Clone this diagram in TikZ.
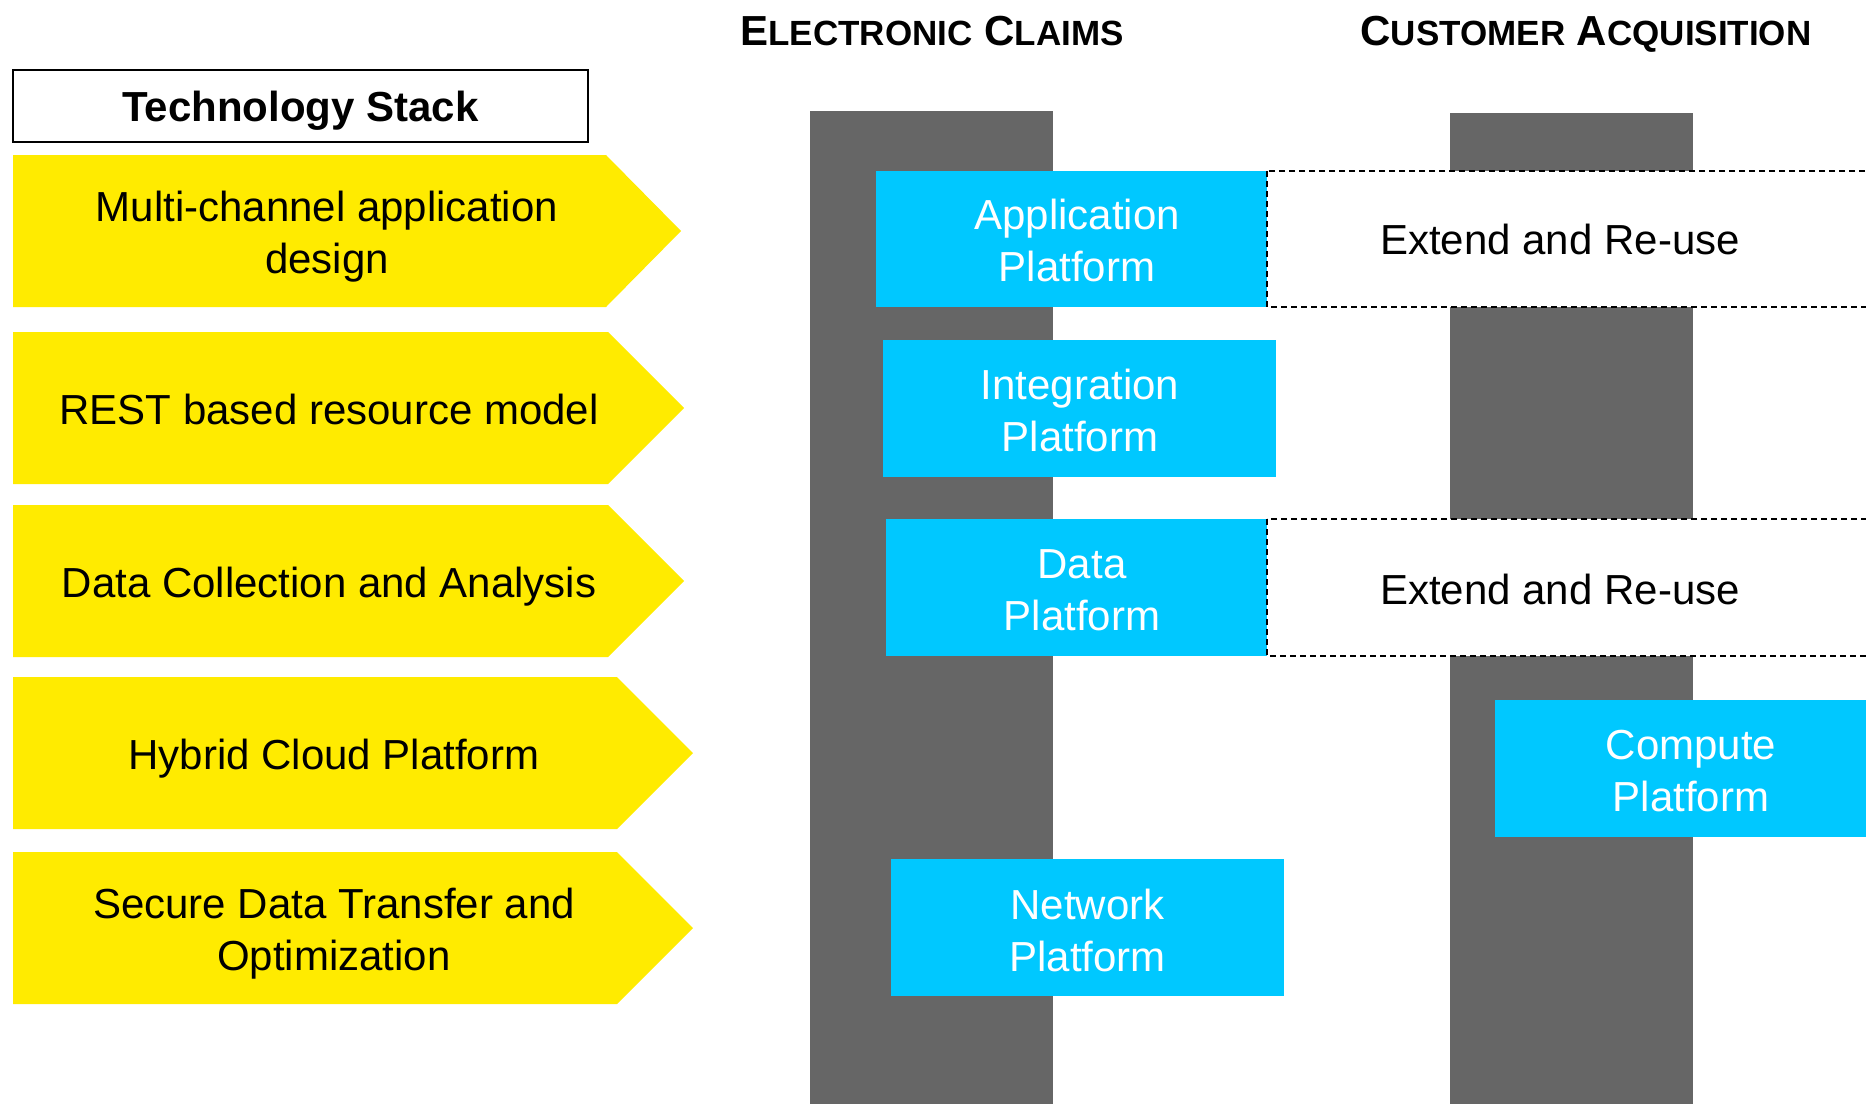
\documentclass[tikz,border=0pt]{standalone}
\usepackage{fontspec}
\setmainfont{Liberation Sans}
\definecolor{ayellow}{HTML}{FFEB00}
\definecolor{ablue}{HTML}{00C8FF}
\definecolor{agray}{HTML}{666666}
\newcommand{\smcap}[1]{{\fontsize{17.5}{20}\selectfont #1}}
\tikzset{
  txt/.style={font=\fontsize{21}{26}\selectfont, align=center, inner sep=0pt},
  wtxt/.style={txt, text=white},
  arrowshape/.style={fill=ayellow, draw=none},
  graybar/.style={fill=agray, draw=none},
  bluebox/.style={fill=ablue, draw=none, inner sep=0pt},
  reusebox/.style={fill=white, draw=black, line width=0.75pt, dash pattern=on 3pt off 2pt},
  titletxt/.style={font=\fontsize{21}{24}\selectfont\bfseries, inner sep=0pt},
}
\begin{document}
\begin{tikzpicture}[x=0.5pt,y=-0.5pt]
\useasboundingbox (0,0) rectangle (1866,1103);
\clip (0,0) rectangle (1866,1103);
\fill[white] (0,0) rectangle (1866,1103);

% titles
\node[titletxt] (ectitle) at (932,31) {E\smcap{LECTRONIC} C\smcap{LAIMS}};
\node[titletxt] (catitle) at (1586,34) {C\smcap{USTOMER} A\smcap{CQUISITION}};

% technology stack header
\node[draw=black, line width=0.75pt, minimum width=287.5pt, minimum height=36pt, inner sep=0pt] (techstack) at (300.5,106) {};
\node[font=\fontsize{21}{26}\selectfont\bfseries, inner sep=0pt] (techstackT) at (300.5,111) {Technology Stack};

% yellow arrows
\path[arrowshape] (13,155) -- (606,155) -- (681,231) -- (606,307) -- (13,307) -- cycle;
\node[txt] (a1) at (327,237) {Multi-channel application\\design};
\path[arrowshape] (13,332) -- (608,332) -- (684,408) -- (608,484) -- (13,484) -- cycle;
\node[txt] (a2) at (329,409) {REST based resource model};
\path[arrowshape] (13,505) -- (608,505) -- (684,581) -- (608,657) -- (13,657) -- cycle;
\node[txt] (a3) at (329,587) {Data Collection and Analysis};
\path[arrowshape] (13,677) -- (617,677) -- (693,753) -- (617,829) -- (13,829) -- cycle;
\node[txt] (a4) at (334,759) {Hybrid Cloud Platform};
\path[arrowshape] (13,852) -- (617,852) -- (693,928) -- (617,1004) -- (13,1004) -- cycle;
\node[txt] (a5) at (334,934) {Secure Data Transfer and\\Optimization};

% gray columns
\path[graybar] (810,111) rectangle (1053,1110);
\path[graybar] (1450,113) rectangle (1693,1110);

% blue platform boxes
\node[bluebox, minimum width=195.5pt, minimum height=68pt] (app) at (1071.5,239) {};
\node[wtxt] (appT) at (1077,240.5) {Application\\Platform};
\node[bluebox, minimum width=196.5pt, minimum height=68.5pt] (integ) at (1079.5,408.5) {};
\node[wtxt] (integT) at (1080,410) {Integration\\Platform};
\node[bluebox, minimum width=190.5pt, minimum height=68.5pt] (data) at (1076.5,587.5) {};
\node[wtxt] (dataT) at (1082,590) {Data\\Platform};
\node[bluebox, minimum width=196.5pt, minimum height=68.5pt] (net) at (1087.5,927.5) {};
\node[wtxt] (netT) at (1087.5,930) {Network\\Platform};
\node[bluebox, minimum width=196pt, minimum height=68.5pt] (compute) at (1691,768.5) {};
\node[wtxt] (computeT) at (1691,771) {Compute\\Platform};

% extend and re-use boxes
\path[reusebox] (1267,171) rectangle (1900,307);
\node[txt] (reuse1) at (1560,239) {Extend and Re-use};
\path[reusebox] (1267,519) rectangle (1900,656);
\node[txt] (reuse2) at (1560,589) {Extend and Re-use};
\end{tikzpicture}
\end{document}
